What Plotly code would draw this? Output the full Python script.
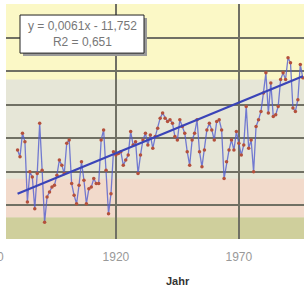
import plotly.graph_objects as go

years = list(range(1880, 1997))
temps = [
    -0.02, -0.06, 0.08, 0.03, -0.33, -0.15, -0.18, -0.37, -0.16, 0.14,   # 1880-1889
    -0.14, -0.45, -0.30, -0.27, -0.24, -0.23, -0.17, -0.08, -0.11, -0.16,  # 1890-1899
    0.02, 0.04, -0.22, -0.29, -0.34, -0.23, -0.09, -0.20, -0.34, -0.25,    # 1900-1909
    -0.24, -0.19, -0.22, -0.22, 0.04, 0.10, -0.14, -0.40, -0.28, -0.03,    # 1910-1919
    -0.05, -0.04, -0.03, -0.11, -0.08, -0.05, 0.09, 0.01, 0.03, -0.16,     # 1920-1929
    -0.05, 0.04, 0.08, 0.01, 0.07, -0.01, 0.06, 0.11, 0.17, 0.20,          # 1930-1939
    0.17, 0.15, 0.16, 0.14, 0.06, 0.04, 0.16, 0.12, 0.08, -0.03,           # 1940-1949
    -0.11, 0.04, 0.08, 0.16, -0.03, -0.12, -0.02, 0.10, 0.14, 0.10,        # 1950-1959
    0.04, 0.15, 0.16, 0.10, -0.19, -0.09, -0.02, 0.04, -0.02, 0.09,        # 1960-1969
    0.02, -0.05, 0.01, 0.24, -0.01, 0.04, -0.15, 0.12, 0.16, 0.21,         # 1970-1979
    0.32, 0.44, 0.20, 0.38, 0.18, 0.19, 0.24, 0.40, 0.44, 0.40,            # 1980-1989
    0.53, 0.50, 0.23, 0.21, 0.28, 0.49, 0.41,                              # 1990-1996
]
trend_years = [1880, 1996]
trend_vals = [-0.28, 0.42]
eq_text = "y = 0,0061x - 11,752<br>R2 = 0,651"
x_ticks = [1920, 1970]
x_title = "Jahr"

# background bands (value ranges)
bands = [(-0.55, -0.42, "#cfcf9c"), (-0.42, -0.19, "#f2dacb"),
         (-0.19, 0.40, "#e6e6d7"), (0.40, 0.85, "#fbf8c6")]

fig = go.Figure()
fig.add_trace(go.Scatter(x=years, y=temps, mode="lines+markers",
                         line=dict(color="rgba(84,94,206,0.8)", width=1.3),
                         marker=dict(color="#b4503c", size=3.5)))
fig.add_trace(go.Scatter(x=trend_years, y=trend_vals, mode="lines",
                         line=dict(color="#3a44b8", width=2.2)))

PL, PW, PB, PH = 6, 298, 238.5, 234.5
def px(v):
    return (v - PL) / PW
def py(v):
    return (PB - v) / PH

shapes = []
for y0, y1, c in bands:
    shapes.append(dict(type="rect", xref="paper", yref="y", x0=0, x1=1, y0=y0, y1=y1,
                       fillcolor=c, line=dict(width=0), layer="below"))
# equation box shadow and box
shapes.append(dict(type="rect", xref="paper", yref="paper",
                   x0=px(23), x1=px(147), y0=py(56), y1=py(18),
                   fillcolor="#9a9a9a", line=dict(width=0), layer="above"))
shapes.append(dict(type="rect", xref="paper", yref="paper",
                   x0=px(20), x1=px(144), y0=py(53), y1=py(15),
                   fillcolor="white", line=dict(color="#222", width=1), layer="above"))
fig.update_layout(shapes=shapes)

fig.add_annotation(text=eq_text, xref="paper", yref="paper",
                   x=px(82), y=py(34), xanchor="center", yanchor="middle", showarrow=False,
                   font=dict(family="Liberation Sans", size=12, color="#777"),
                   align="center")
fig.add_annotation(text="1870", xref="paper", x=px(-10), yref="paper", y=py(256),
                   xanchor="center", yanchor="middle",
                   showarrow=False, font=dict(family="Liberation Sans", size=12, color="#999"))
fig.add_annotation(text="<b>" + x_title + "</b>", xref="paper", yref="paper",
                   x=px(178), y=py(287), xanchor="center", yanchor="bottom", showarrow=False,
                   borderpad=0,
                   font=dict(family="Liberation Sans", size=11, color="#333"))

fig.update_xaxes(range=[1875.3, 1996.5], tickvals=x_ticks, showgrid=True,
                 gridcolor="#707064", gridwidth=1.5, zeroline=False, ticks="",
                 ticklabelstandoff=9,
                 tickfont=dict(family="Liberation Sans", size=12, color="#999"))
fig.update_yaxes(range=[-0.55, 0.85], tick0=-0.35, dtick=0.2, showgrid=True,
                 gridcolor="#707064", gridwidth=1.5, zeroline=False,
                 showticklabels=False, ticks="")
fig.update_layout(width=304, height=287, margin=dict(l=6, r=0, t=4, b=48, autoexpand=False),
                  plot_bgcolor="#e6e6d7", paper_bgcolor="white", showlegend=False)
fig.write_html("out.html", config={"displayModeBar": False},
               post_script="document.body.style.margin='0';document.body.style.overflow='hidden';")
